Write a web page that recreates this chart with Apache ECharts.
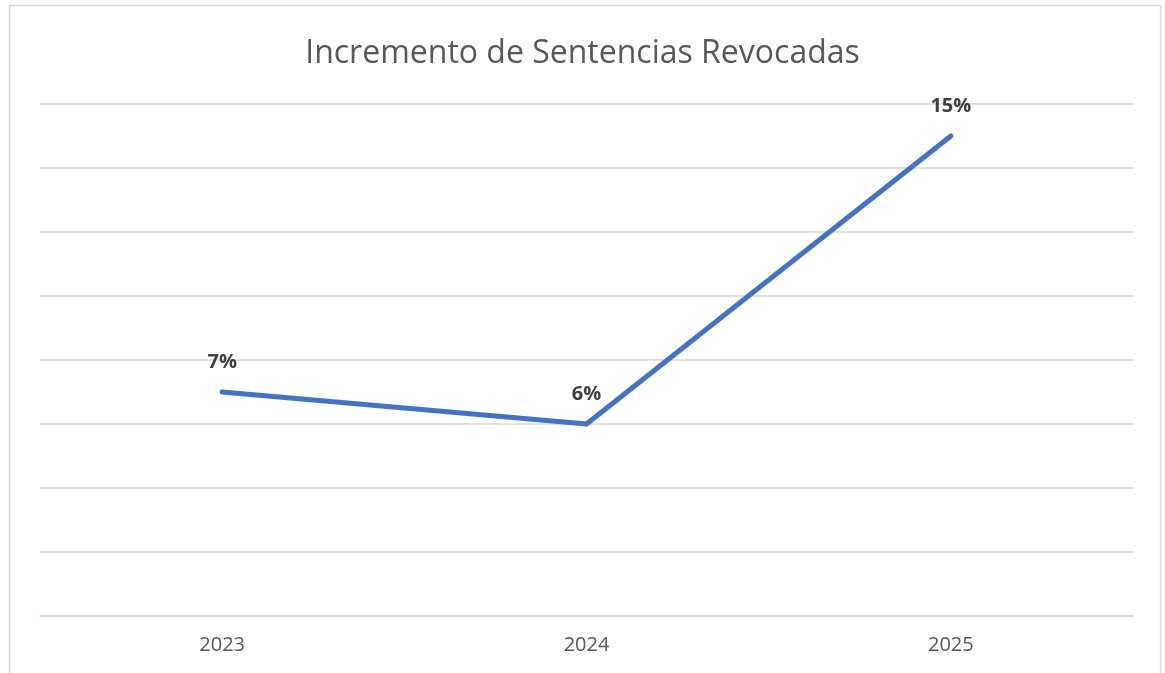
<!DOCTYPE html>
<html>
<head>
<meta charset="utf-8">
<script src="https://cdn.jsdelivr.net/npm/echarts@6/dist/echarts.min.js"></script>
<style>
  html, body { margin: 0; padding: 0; background: #fff; }
  #container { width: 1165px; height: 673px; }
</style>
</head>
<body>
<div id="container"></div>
<script>
var dom = document.getElementById("container");
var myChart = echarts.init(dom);
var option;

var years = ['2023', '2024', '2025'];
var revocadas = [7, 6, 15];
var chartTitle = 'Incremento de Sentencias Revocadas';

option = {
    animation: false,
    title: {
        text: chartTitle,
        left: 'center',
        top: 33,
        textStyle: {
            fontFamily: 'Open Sans',
            fontSize: 32,
            fontWeight: 'normal',
            color: '#595959'
        }
    },
    graphic: [{
        type: 'rect',
        shape: { x: 9.5, y: 5.5, width: 1151, height: 700 },
        style: { fill: 'none', stroke: '#d9d9d9', lineWidth: 1.5 },
        silent: true
    }],
    grid: {
        top: 104,
        bottom: 57,
        left: 40,
        right: 32
    },
    xAxis: {
        type: 'category',
        data: years,
        boundaryGap: true,
        axisLine: { lineStyle: { color: '#d9d9d9', width: 1.5 } },
        axisTick: { show: false },
        axisLabel: {
            margin: 19,
            fontFamily: 'Open Sans',
            fontSize: 20,
            color: '#595959'
        }
    },
    yAxis: {
        type: 'value',
        min: 0,
        max: 16,
        interval: 2,
        axisLabel: { show: false },
        axisLine: { show: false },
        axisTick: { show: false },
        splitLine: { lineStyle: { color: '#d9d9d9', width: 1.5 } }
    },
    series: [{
        type: 'line',
        data: revocadas,
        symbol: 'circle',
        symbolSize: 0.1,
        lineStyle: { color: '#4472c4', width: 5, cap: 'round', join: 'round' },
        itemStyle: { color: '#4472c4' },
        label: {
            show: true,
            position: 'top',
            distance: 20,
            formatter: '{c}%',
            fontFamily: 'Open Sans',
            fontSize: 20,
            fontWeight: 'bold',
            color: '#404040'
        }
    }]
};

myChart.setOption(option);
</script>
</body>
</html>
